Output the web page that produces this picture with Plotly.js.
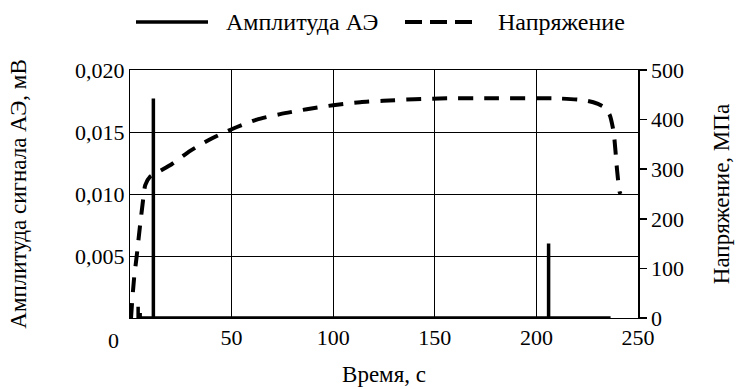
<!DOCTYPE html>
<html>
<head>
<meta charset="utf-8">
<script src="https://cdn.plot.ly/plotly-3.0.1.min.js"></script>
<style>
html,body{margin:0;padding:0;background:#fff;}
#chart{width:742px;height:389px;}
</style>
</head>
<body>
<div id="chart"></div>
<script>
// AE amplitude (mV) vs time (s)
var aeTime = [4, 4, 4, 5, 5, 5, 11.5, 11.5, 11.5, 110, 110, 110, 133.5, 133.5, 133.5, 206, 206, 206, 236.5];
var aeAmp  = [0, 0.0009, 0, 0, 0.0004, 0, 0, 0.0177, 0, 0, 0.0001, 0, 0, 0.00015, 0, 0, 0.006, 0, 0];

// Stress (MPa) vs time (s)
var stressTime = [0.5, 1.0, 2.0, 3.3, 4.9, 6.5, 7.5, 9.9, 15, 20.5, 29.6, 40.2, 50.9, 62.4, 73.9, 87, 100, 113.3, 124.6, 140, 156, 180, 208, 221.7, 228, 233, 236, 238, 239.7, 240.9, 241.4];
var stressVal  = [0, 30, 80, 125, 185, 240, 268, 285, 297, 310, 337, 362, 382, 400, 411, 421, 429, 435, 438, 441, 443, 443, 443, 440, 435, 426, 410, 375, 298, 255, 250];

var xTicks = [0, 50, 100, 150, 200, 250];
var yTicks = [0.005, 0.010, 0.015, 0.020];
var y2Ticks = [0, 100, 200, 300, 400, 500];

var legendNames = ['Амплитуда АЭ', 'Напряжение'];
var xTitle = 'Время, с';
var yTitle = 'Амплитуда сигнала АЭ, мВ';
var y2Title = 'Напряжение, МПа';

var FONT = '"Liberation Serif", "Times New Roman", serif';

var traces = [
  {x: aeTime, y: aeAmp, type: 'scatter', mode: 'lines', name: legendNames[0],
   line: {color: '#000', width: 3.5}, yaxis: 'y', showlegend: false},
  {x: stressTime, y: stressVal, type: 'scatter', mode: 'lines', name: legendNames[1],
   line: {color: '#000', width: 4, dash: '15px,11px', shape: 'spline', smoothing: 0.6}, yaxis: 'y2', showlegend: false}
];

var L = 130, R = 638, T = 70, B = 318;
function px(x){ return (x - L) / (R - L); }
function py(y){ return (B - y) / (B - T); }
function f(s){ return {family: FONT, size: s, color: '#000'}; }

var layout = {
  width: 742, height: 389,
  margin: {l: L, r: 742 - R, t: T, b: 389 - B},
  paper_bgcolor: '#fff', plot_bgcolor: '#fff',
  separators: ', ',
  font: f(22),
  showlegend: false,
  xaxis: {
    range: [0, 250], tickvals: xTicks, ticktext: ['', '50', '100', '150', '200', '250'],
    showgrid: true, gridcolor: '#000', gridwidth: 1,
    showline: true, linecolor: '#000', linewidth: 1, mirror: true,
    ticks: '', zeroline: false,
    tickfont: f(22),
    title: {text: xTitle, font: f(23), standoff: 16}
  },
  yaxis: {
    range: [0, 0.02], tickvals: yTicks, tickformat: '.3f',
    showgrid: true, gridcolor: '#000', gridwidth: 1,
    showline: true, linecolor: '#000', linewidth: 1,
    ticks: '', zeroline: false,
    tickfont: f(22),
    title: {text: yTitle, font: f(23), standoff: 42}
  },
  yaxis2: {
    range: [0, 500], tickvals: y2Ticks, overlaying: 'y', side: 'right', anchor: 'x',
    showgrid: false, zeroline: false,
    showline: true, linecolor: '#000', linewidth: 1.5,
    ticks: 'outside', ticklen: 7, tickwidth: 1.5, tickcolor: '#000',
    tickfont: f(22),
    title: {text: y2Title, font: f(23), standoff: 30}
  },
  shapes: [
    {type: 'line', xref: 'paper', yref: 'paper', x0: px(136), x1: px(208), y0: py(22), y1: py(22),
     line: {color: '#000', width: 3.5}},
    {type: 'line', xref: 'paper', yref: 'paper', x0: px(405), x1: px(472), y0: py(22), y1: py(22),
     line: {color: '#000', width: 4, dash: '17px,8px'}}
  ],
  annotations: [
    {xref: 'paper', yref: 'paper', x: px(224), y: py(22), xanchor: 'left', yanchor: 'middle',
     text: legendNames[0], showarrow: false, font: f(24)},
    {xref: 'paper', yref: 'paper', x: px(496), y: py(22), xanchor: 'left', yanchor: 'middle',
     text: legendNames[1], showarrow: false, font: f(24)},
    {xref: 'paper', yref: 'paper', x: px(113), y: py(340), xanchor: 'center', yanchor: 'middle',
     text: '0', showarrow: false, font: f(22)}
  ]
};

Plotly.newPlot('chart', traces, layout, {displayModeBar: false, staticPlot: true});
</script>
</body>
</html>
